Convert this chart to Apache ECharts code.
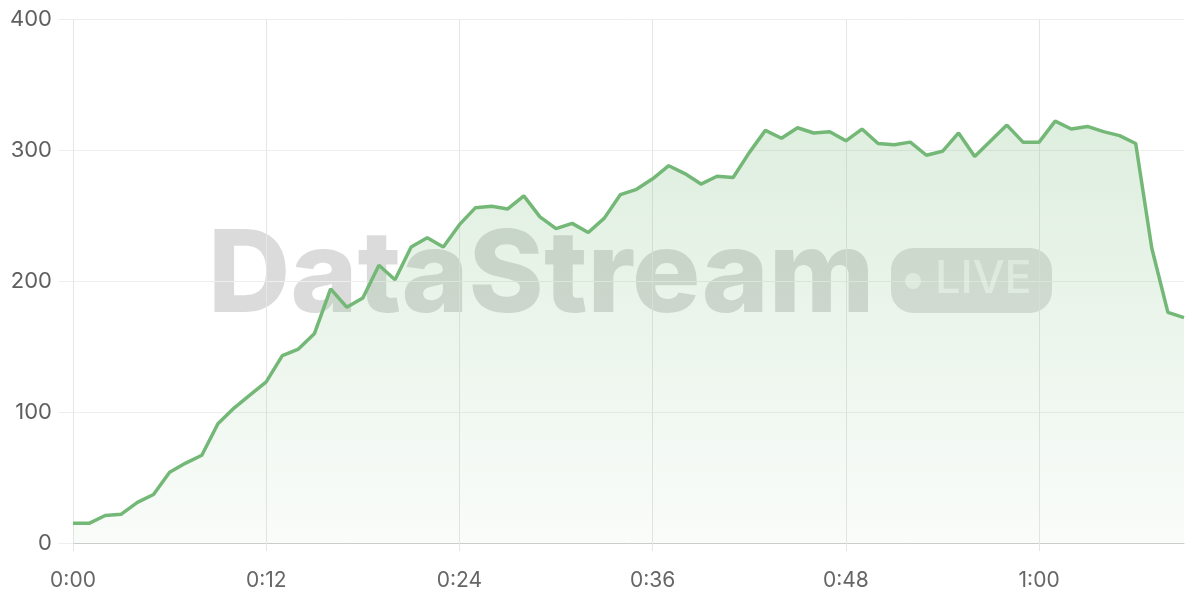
<!DOCTYPE html>
<html>
<head>
<meta charset="utf-8">
<script src="https://cdn.jsdelivr.net/npm/echarts@6/dist/echarts.min.js"></script>
<style>
html,body{margin:0;padding:0;background:#fff;}
#chart{width:1200px;height:600px;}
</style>
</head>
<body>
<div id="chart"></div>
<script>
// minutes 0..69
const minutes = [];
for (let m = 0; m < 70; m++) minutes.push(m);
const categories = minutes.map(m => Math.floor(m / 60) + ':' + String(m % 60).padStart(2, '0'));
const values = [
  15, 15, 21, 22, 31, 37, 54, 61, 67, 91,
  103, 113, 123, 143, 148, 160, 194, 180, 187, 212,
  201, 226, 233, 226, 243, 256, 257, 255, 265, 249,
  240, 244, 237, 248, 266, 270, 278, 288, 282, 274,
  280, 279, 298, 315, 309, 317, 313, 314, 307, 316,
  305, 304, 306, 296, 299, 313, 295, 307, 319, 306,
  306, 322, 316, 318, 314, 311, 305, 225, 176, 172
];
const yTicks = [0, 100, 200, 300, 400];

const chart = echarts.init(document.getElementById('chart'));
chart.setOption({
  animation: false,
  backgroundColor: '#ffffff',
  grid: { left: 73, right: 16, top: 19, bottom: 57 },
  xAxis: {
    type: 'category',
    data: categories,
    boundaryGap: false,
    axisLine: { lineStyle: { color: '#cccccc', width: 1 } },
    axisTick: { show: true, interval: 11, length: 8, lineStyle: { color: '#e6e6e6' } },
    axisLabel: { interval: 11, color: '#666666', fontSize: 21, margin: 27, fontFamily: 'Inter, "Noto Sans", sans-serif' },
    splitLine: { show: true, interval: 11, lineStyle: { color: '#e6e6e6', width: 1 } }
  },
  yAxis: {
    type: 'value',
    min: yTicks[0],
    max: yTicks[yTicks.length - 1],
    interval: 100,
    axisLine: { show: false },
    axisTick: { show: true, length: 14, lineStyle: { color: '#eeeeee' } },
    axisLabel: { color: '#5f5f5f', fontSize: 22, margin: 21, fontFamily: 'Inter, "Noto Sans", sans-serif' },
    splitLine: { lineStyle: { color: '#eeeeee', width: 1 } }
  },
  graphic: [
    {
      type: 'text', left: 208, top: 221, z: 0,
      style: { text: 'DataStream', font: '800 114px Inter, "Noto Sans", sans-serif', fill: 'rgba(0,0,0,0.14)' }
    },
    {
      type: 'rect', z: 0,
      shape: { x: 891, y: 248, width: 161, height: 65, r: 22 },
      style: { fill: 'rgba(0,0,0,0.12)' }
    },
    {
      type: 'circle', z: 1,
      shape: { cx: 913, cy: 281, r: 8 },
      style: { fill: 'rgba(255,255,255,0.62)' }
    },
    {
      type: 'text', z: 1, left: 935, top: 257,
      style: { text: 'LIVE', font: '500 45px Inter, "Noto Sans", sans-serif', fill: 'rgba(255,255,255,0.62)' }
    }
  ],
  series: [{
    type: 'line',
    data: values,
    symbol: 'none',
    z: 3,
    lineStyle: { color: '#74b877', width: 3.5 },
    areaStyle: {
      color: new echarts.graphic.LinearGradient(0, 0, 0, 1, [
        { offset: 0, color: 'rgba(117,185,120,0.34)' },
        { offset: 1, color: 'rgba(117,185,120,0.06)' }
      ])
    }
  }]
});
</script>
</body>
</html>
